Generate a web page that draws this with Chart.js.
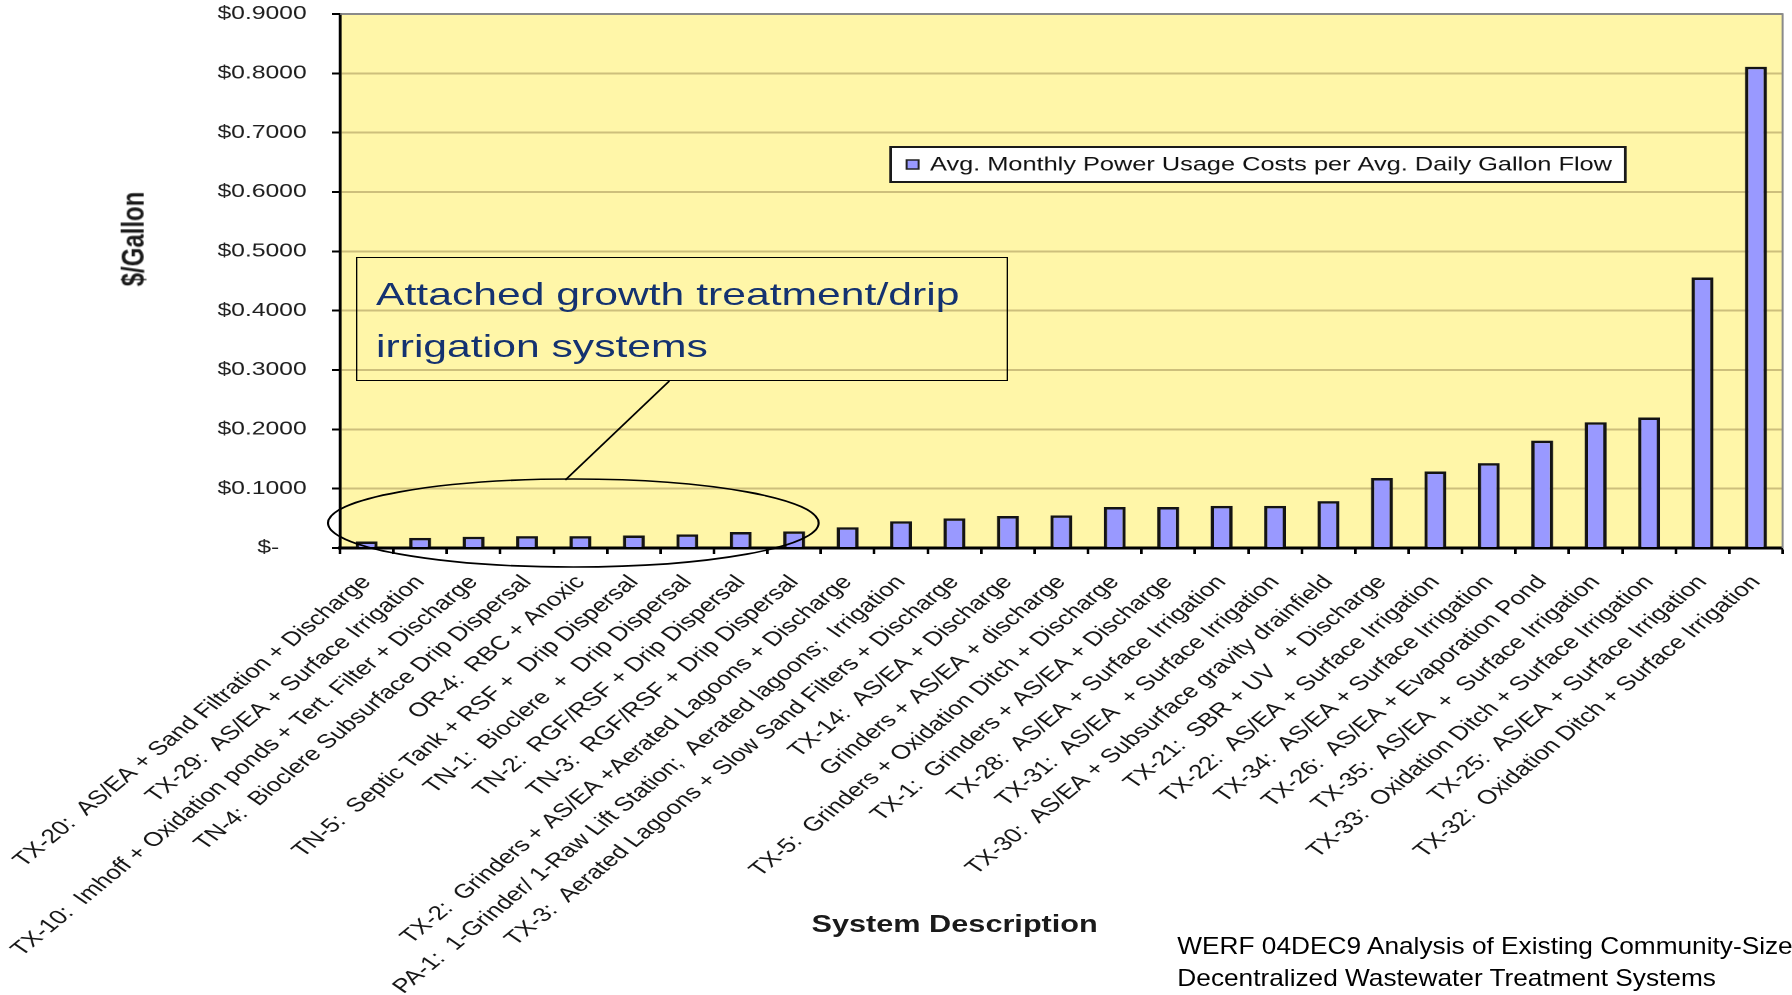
<!DOCTYPE html>
<html>
<head>
<meta charset="utf-8">
<title>Avg. Monthly Power Usage Costs per Avg. Daily Gallon Flow</title>
<script src="https://cdn.jsdelivr.net/npm/chart.js@4.4.1/dist/chart.umd.min.js"></script>
<style>
  html, body { margin: 0; padding: 0; background: #fff; }
  body { width: 1792px; height: 995px; overflow: hidden; position: relative;
         font-family: "Liberation Sans", Arial, sans-serif; }
  /* the slide is laid out at 4:3 and widened to the 16:9 window */
  #slide { position: absolute; left: 0; top: 0; width: 1344px; height: 995px;
           transform: scaleX(1.3333333); transform-origin: 0 0; }
  #chartBox { position: absolute; left: 0; top: 0; width: 1344px; height: 995px; }
  #yTitle { position: absolute; left: 100px; top: 239px; transform: translate(-50%, -50%) rotate(-90deg);
            font-weight: bold; font-size: 24px; color: #1a1a1a; white-space: nowrap; }
  #xTitle { position: absolute; left: 716px; top: 924px; transform: translate(-50%, -50%);
            font-weight: bold; font-size: 23px; color: #1a1a1a; white-space: nowrap; }
  #callout { position: absolute; left: 267px; top: 257px; width: 489px; height: 124px;
             border: 1.5px solid #000; box-sizing: border-box; }
  #calloutText { position: absolute; left: 282px; top: 268px; font-size: 32px; line-height: 52px;
                 color: #143270; white-space: nowrap; }
  #marks { position: absolute; left: 0; top: 0; pointer-events: none; }
  #credit { position: absolute; left: 883px; top: 930px; font-size: 24px; line-height: 32px;
            color: #000; white-space: nowrap; transform: scaleX(0.82); transform-origin: 0 0; }
</style>
</head>
<body>
<div id="slide">
  <div id="chartBox"><canvas id="chart"></canvas></div>
  <div id="yTitle">$/Gallon</div>
  <div id="xTitle">System Description</div>
  <div id="callout"></div>
  <div id="calloutText">Attached growth treatment/drip<br>irrigation systems</div>
  <svg id="marks" width="1344" height="995" viewBox="0 0 1344 995">
    <ellipse cx="430" cy="523" rx="184" ry="44" fill="none" stroke="#000" stroke-width="1.6"/>
    <line x1="424" y1="480" x2="502" y2="381" stroke="#000" stroke-width="1.4"/>
  </svg>
  <div id="credit">WERF 04DEC9 Analysis of Existing Community-Sized<br>Decentralized Wastewater Treatment Systems</div>
</div>

<script>
// Systems, in the order plotted (cheapest to most expensive)
const categories = [
  'TX-20:  AS/EA + Sand Filtration + Discharge',
  'TX-29:  AS/EA + Surface Irrigation',
  'TX-10:  Imhoff + Oxidation ponds + Tert. Filter + Discharge',
  'TN-4:  Bioclere Subsurface Drip Dispersal',
  'OR-4:  RBC + Anoxic',
  'TN-5:  Septic Tank + RSF +  Drip Dispersal',
  'TN-1:  Bioclere  +  Drip Dispersal',
  'TN-2:  RGF/RSF + Drip Dispersal',
  'TN-3:  RGF/RSF + Drip Dispersal',
  'TX-2:  Grinders + AS/EA +Aerated Lagoons + Discharge',
  'PA-1:  1-Grinder/ 1-Raw Lift Station;  Aerated lagoons;  Irrigation',
  'TX-3:  Aerated Lagoons + Slow Sand Filters + Discharge',
  'TX-14:  AS/EA + Discharge',
  'Grinders + AS/EA + discharge',
  'TX-5:  Grinders + Oxidation Ditch + Discharge',
  'TX-1:  Grinders + AS/EA + Discharge',
  'TX-28:  AS/EA + Surface Irrigation',
  'TX-31:  AS/EA  + Surface Irrigation',
  'TX-30:  AS/EA + Subsurface gravity drainfield',
  'TX-21:  SBR + UV   + Discharge',
  'TX-22:  AS/EA + Surface Irrigation',
  'TX-34:  AS/EA + Surface Irrigation',
  'TX-26:  AS/EA + Evaporation Pond',
  'TX-35:  AS/EA  +  Surface Irrigation',
  'TX-33:  Oxidation Ditch + Surface Irrigation',
  'TX-25:  AS/EA + Surface Irrigation',
  'TX-32:  Oxidation Ditch + Surface Irrigation'
];

// $ per gallon
const costPerGallon = [
  0.011, 0.017, 0.019, 0.020, 0.020, 0.021, 0.023, 0.027, 0.028,
  0.035, 0.045, 0.050, 0.054, 0.055, 0.069, 0.069, 0.071, 0.071,
  0.079, 0.118, 0.129, 0.143, 0.181, 0.212, 0.220, 0.456, 0.811
];

const seriesName = 'Avg. Monthly Power Usage Costs per Avg. Daily Gallon Flow';

// accounting-style axis labels, bottom to top
const yTickLabels = [
  '$-    ', '$0.1000', '$0.2000', '$0.3000', '$0.4000',
  '$0.5000', '$0.6000', '$0.7000', '$0.8000', '$0.9000'
];

Chart.defaults.font.family = '"Liberation Sans", Arial, sans-serif';

// pale yellow plot area with a grey frame on the top and right
const plotFrame = {
  id: 'plotFrame',
  beforeDraw(chart) {
    const { ctx, chartArea: a } = chart;
    ctx.save();
    ctx.fillStyle = '#FFF6A8';
    ctx.fillRect(a.left, a.top, a.right - a.left, a.bottom - a.top);
    ctx.restore();
  },
  afterDatasetsDraw(chart) {
    const { ctx, chartArea: a } = chart;
    ctx.save();
    ctx.strokeStyle = '#8a8a8a';
    ctx.lineWidth = 1.5;
    ctx.beginPath();
    ctx.moveTo(a.left, a.top);
    ctx.lineTo(a.right, a.top);
    ctx.lineTo(a.right, a.bottom);
    ctx.stroke();
    ctx.restore();
  }
};

// boxed series key inside the plot area
const boxLegend = {
  id: 'boxLegend',
  afterDraw(chart) {
    const { ctx, chartArea: a } = chart;
    const ds = chart.data.datasets[0];
    const x = a.left + 413, y = a.top + 133, h = 35;
    ctx.save();
    ctx.font = '19px "Liberation Sans", Arial, sans-serif';
    const tw = ctx.measureText(ds.label).width;
    const w = 29.5 + tw + 10;
    ctx.fillStyle = '#fff';
    ctx.fillRect(x, y, w, h);
    ctx.lineWidth = 2;
    ctx.strokeStyle = '#1a1a1a';
    ctx.strokeRect(x, y, w, h);
    ctx.fillStyle = ds.backgroundColor;
    ctx.fillRect(x + 12, y + h / 2 - 4.5, 9, 9);
    ctx.lineWidth = 1.5;
    ctx.strokeStyle = '#222';
    ctx.strokeRect(x + 12, y + h / 2 - 4.5, 9, 9);
    ctx.fillStyle = '#111';
    ctx.textAlign = 'left';
    ctx.textBaseline = 'middle';
    ctx.fillText(ds.label, x + 29.5, y + h / 2 + 1);
    ctx.restore();
  }
};

new Chart(document.getElementById('chart'), {
  type: 'bar',
  data: {
    labels: categories,
    datasets: [{
      label: seriesName,
      data: costPerGallon,
      backgroundColor: '#9999FF',
      borderColor: '#141414',
      borderWidth: 2.5,
      borderSkipped: 'start',
      barPercentage: 0.41,
      categoryPercentage: 1
    }]
  },
  options: {
    responsive: true,
    maintainAspectRatio: false,
    animation: false,
    devicePixelRatio: 2,
    layout: { padding: { top: 14, right: 7, bottom: 0, left: 0 } },
    plugins: {
      legend: { display: false },
      tooltip: { enabled: false }
    },
    scales: {
      x: {
        grid: {
          display: true, drawOnChartArea: false, drawTicks: true,
          tickLength: 6, tickColor: '#000', tickWidth: 2, offset: true
        },
        border: { display: true, color: '#000', width: 3 },
        ticks: {
          autoSkip: false, maxRotation: 47.5, minRotation: 47.5,
          padding: 17, labelOffset: 0,
          color: '#151515', font: { size: 19.6 }
        },
        afterFit(s) { s.height = 447; s.paddingLeft = 0; s.paddingRight = 0; }
      },
      y: {
        min: 0,
        max: 0.9,
        grid: {
          color: c => (c.index === 9 ? '#8a8a8a' : '#CDBF7C'),
          lineWidth: 2, tickLength: 6, tickColor: '#000', tickWidth: 2
        },
        border: { display: true, color: '#000', width: 2.25 },
        ticks: {
          stepSize: 0.1, padding: 19, color: '#1e1e1e',
          font: { size: 18.5 },
          callback: (v, i) => yTickLabels[i]
        },
        afterFit(s) { s.width = 255; s.paddingTop = 0; s.paddingBottom = 0; }
      }
    }
  },
  plugins: [plotFrame, boxLegend]
});
</script>
</body>
</html>
